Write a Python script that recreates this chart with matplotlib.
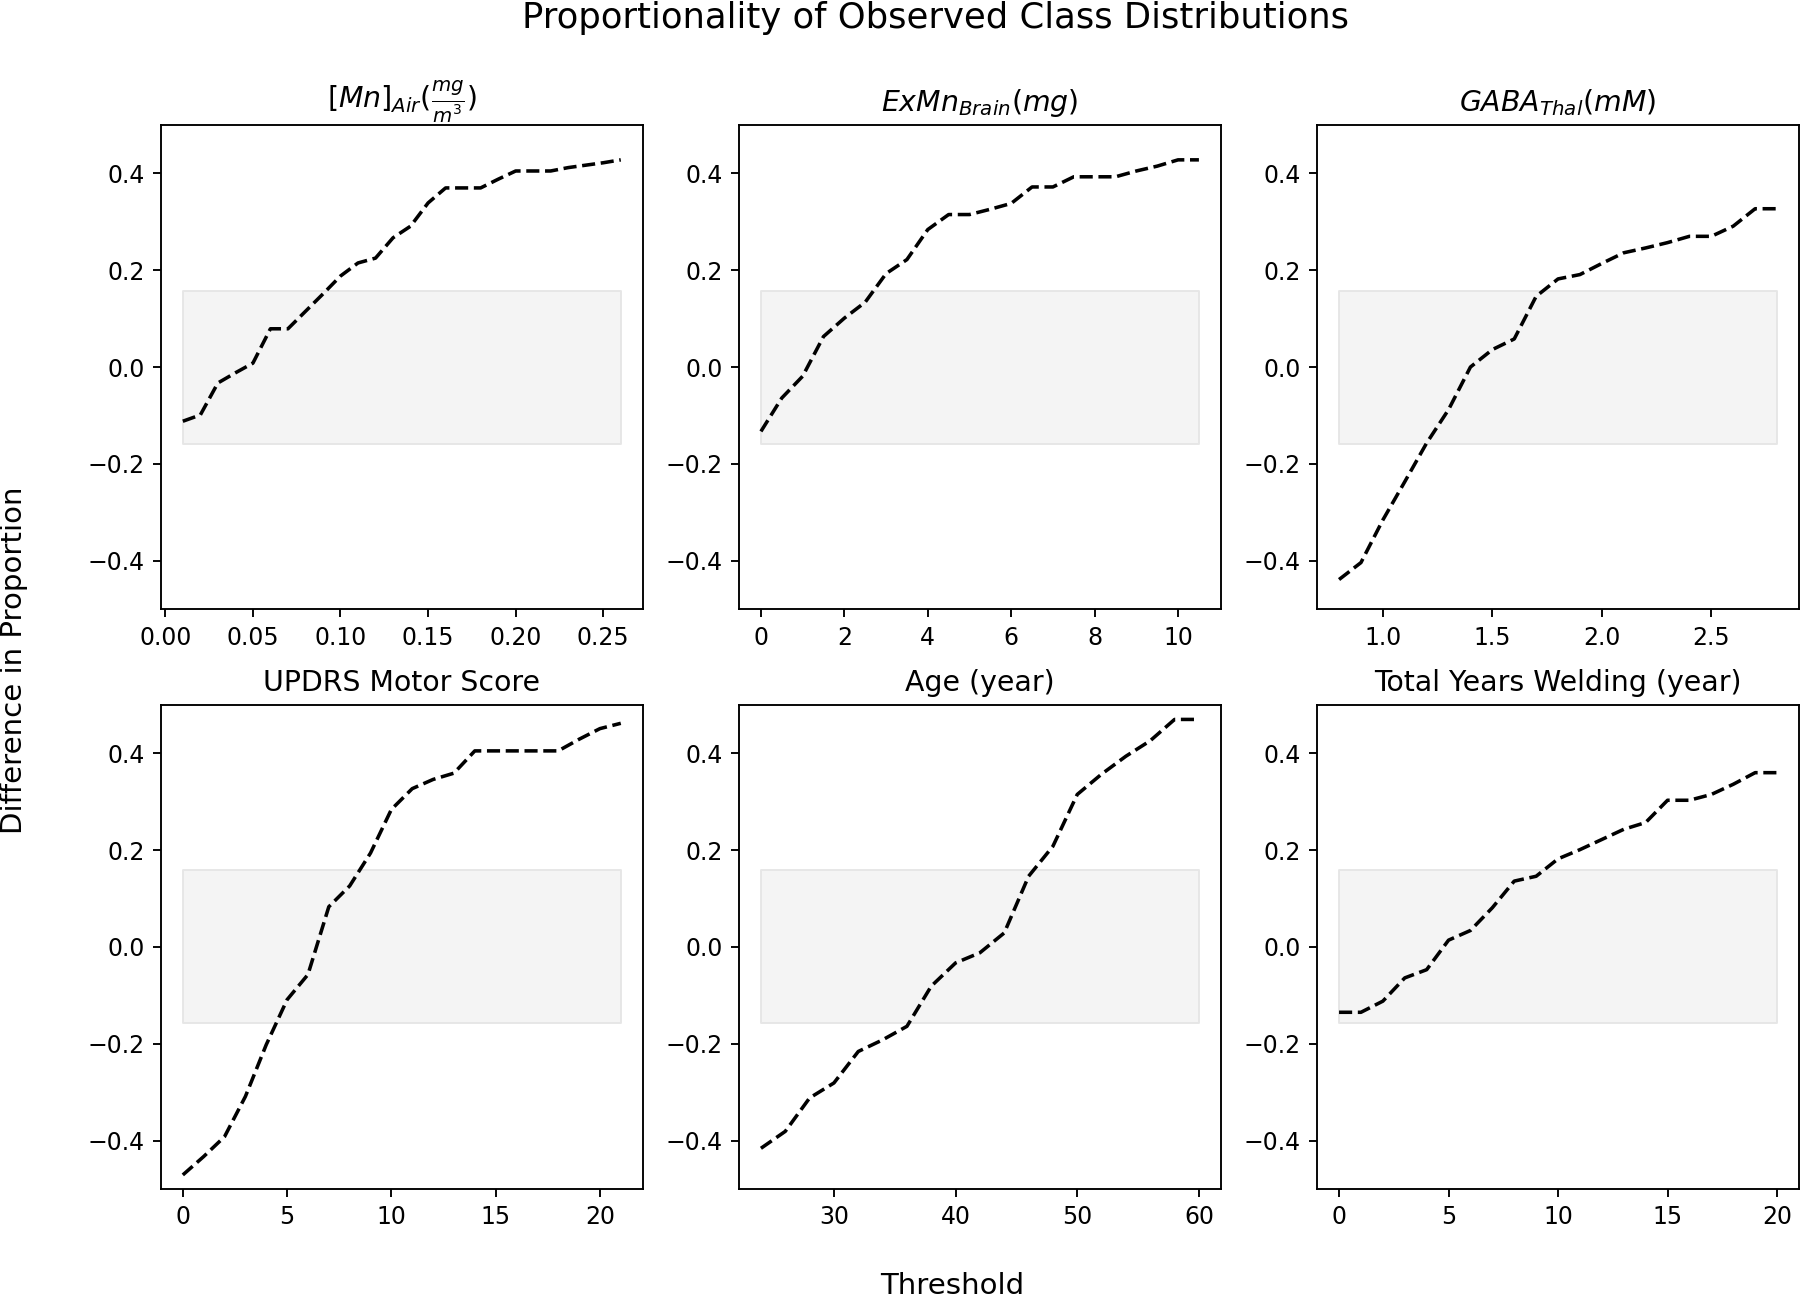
import matplotlib
matplotlib.use("Agg")
import matplotlib.pyplot as plt
import numpy as np

# ---- data ----
titles = [r'$[Mn]_{Air}(\frac{mg}{m^3})$', r'$ExMn_{Brain}(mg)$', r'$GABA_{Thal}(mM)$',
          'UPDRS Motor Score', 'Age (year)', 'Total Years Welding (year)']

mn_x = [0.01, 0.02, 0.03, 0.04, 0.05, 0.06, 0.07, 0.08, 0.09, 0.10, 0.11, 0.12, 0.13,
        0.14, 0.15, 0.16, 0.17, 0.18, 0.19, 0.20, 0.21, 0.22, 0.23, 0.24, 0.25, 0.26]
mn_y = [-0.112, -0.099, -0.033, -0.012, 0.008, 0.079, 0.079, 0.115, 0.151, 0.188, 0.215,
        0.225, 0.267, 0.291, 0.339, 0.370, 0.370, 0.370, 0.388, 0.405, 0.405, 0.405,
        0.412, 0.417, 0.422, 0.428]

exmn_x = [0, 0.5, 1, 1.5, 2, 2.5, 3, 3.5, 4, 4.5, 5, 5.5, 6, 6.5, 7, 7.5, 8, 8.5, 9,
          9.5, 10, 10.5]
exmn_y = [-0.133, -0.064, -0.019, 0.063, 0.101, 0.134, 0.193, 0.222, 0.284, 0.315,
          0.315, 0.326, 0.338, 0.372, 0.372, 0.393, 0.393, 0.393, 0.405, 0.415, 0.428,
          0.428]

gaba_x = [0.8, 0.9, 1.0, 1.1, 1.2, 1.3, 1.4, 1.5, 1.6, 1.7, 1.8, 1.9, 2.0, 2.1, 2.2,
          2.3, 2.4, 2.5, 2.6, 2.7, 2.8]
gaba_y = [-0.439, -0.404, -0.316, -0.237, -0.157, -0.088, 0.0, 0.036, 0.058, 0.146,
          0.182, 0.191, 0.214, 0.236, 0.246, 0.257, 0.270, 0.270, 0.291, 0.327, 0.327]

updrs_x = list(range(0, 22))
updrs_y = [-0.471, -0.433, -0.392, -0.309, -0.202, -0.109, -0.057, 0.083, 0.126, 0.194,
           0.284, 0.327, 0.346, 0.359, 0.405, 0.405, 0.405, 0.405, 0.405, 0.429, 0.451,
           0.462]

age_x = [24, 26, 28, 30, 32, 34, 36, 38, 40, 42, 44, 46, 48, 50, 52, 54, 56, 58, 60]
age_y = [-0.416, -0.381, -0.312, -0.281, -0.216, -0.192, -0.164, -0.081, -0.033, -0.012,
         0.029, 0.146, 0.208, 0.315, 0.357, 0.394, 0.426, 0.470, 0.470]

weld_x = list(range(0, 21))
weld_y = [-0.135, -0.135, -0.112, -0.064, -0.047, 0.014, 0.034, 0.081, 0.136, 0.146,
          0.182, 0.201, 0.222, 0.243, 0.257, 0.303, 0.303, 0.315, 0.336, 0.360, 0.360]

band_lo, band_hi = -0.158, 0.158
yticks = [-0.4, -0.2, 0.0, 0.2, 0.4]

series = [(mn_x, mn_y), (exmn_x, exmn_y), (gaba_x, gaba_y),
          (updrs_x, updrs_y), (age_x, age_y), (weld_x, weld_y)]

fig, axes = plt.subplots(2, 3, figsize=(1800 / 170, 1298 / 170), dpi=170)
fig.subplots_adjust(left=0.0894, right=0.9994, top=0.9037, bottom=0.084,
                    wspace=0.2, hspace=0.198)

for ax, title, (x, y) in zip(axes.flat, titles, series):
    x = np.asarray(x, dtype=float)
    ax.fill_between([x[0], x[-1]], band_lo, band_hi, facecolor='#f4f4f4',
                    edgecolor='#e6e6e6', linewidth=0.8)
    ax.plot(x, y, color='black', linestyle='--', linewidth=1.5)
    ax.set_ylim(-0.5, 0.5)
    ax.set_yticks(yticks)
    ax.set_title(title, fontsize=12)

fig.suptitle('Proportionality of Observed Class Distributions', fontsize=15,
             x=0.52, y=0.999)
fig.text(0.529, 0.0095, 'Threshold', ha='center', va='center', fontsize=12.4)
fig.text(0.008, 0.491, 'Difference in Proportion', ha='center', va='center',
         rotation=90, fontsize=12.4)

fig.savefig('out.png', dpi=170)
